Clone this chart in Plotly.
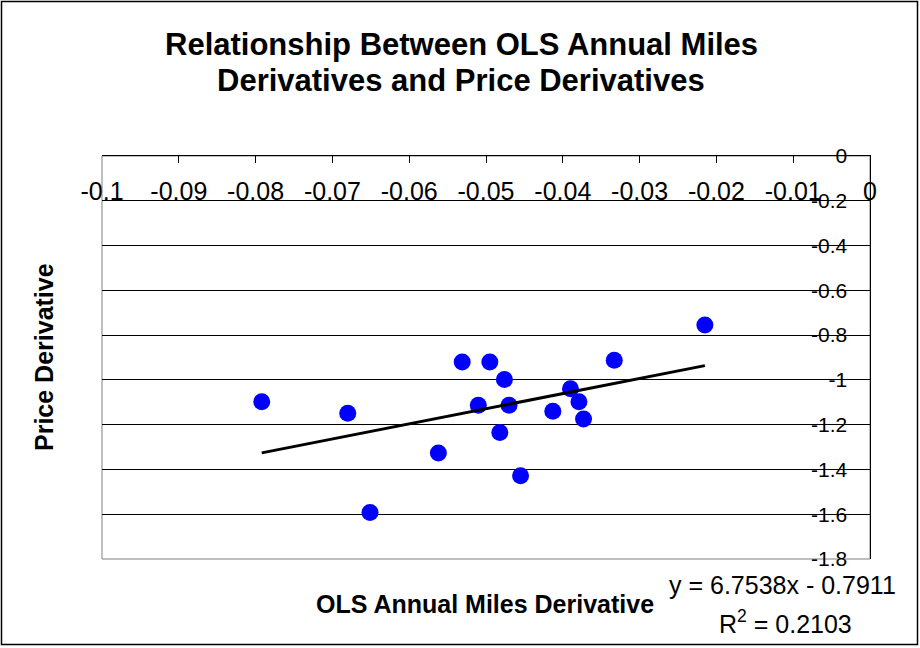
import plotly.graph_objects as go

# Data
miles_deriv = [-0.0792, -0.0680, -0.0651, -0.0562, -0.0531, -0.0495, -0.0476, -0.0510,
               -0.0470, -0.0482, -0.0455, -0.0413, -0.0390, -0.0379, -0.0373, -0.0333, -0.0215]
price_deriv = [-1.098, -1.149, -1.592, -1.327, -0.920, -0.920, -0.998, -1.113,
               -1.113, -1.235, -1.428, -1.140, -1.040, -1.098, -1.175, -0.912, -0.755]
trend_slope = 6.7538
trend_intercept = -0.7911
r_squared = 0.2103

x_tickvals = [-0.1, -0.09, -0.08, -0.07, -0.06, -0.05, -0.04, -0.03, -0.02, -0.01, 0]
x_ticktext = ["-0.1", "-0.09", "-0.08", "-0.07", "-0.06", "-0.05", "-0.04", "-0.03", "-0.02", "-0.01", "0"]
y_tickvals = [0, -0.2, -0.4, -0.6, -0.8, -1.0, -1.2, -1.4, -1.6, -1.8]
y_ticktext = ["0", "-0.2", "-0.4", "-0.6", "-0.8", "-1", "-1.2", "-1.4", "-1.6", "-1.8"]

title_lines = ["Relationship Between OLS Annual Miles", "Derivatives and Price Derivatives"]

FONT = "Liberation Sans, Arial, sans-serif"

# plot-area geometry in pixels (for placing free text)
L, R, T, B = 102, 870, 156, 559
W, H = R - L, B - T


def px_x(px):
    return (px - L) / W


def px_y(py):
    return (B - py) / H


x_min, x_max = min(miles_deriv), max(miles_deriv)
trend_x = [x_min, x_max]
trend_y = [trend_slope * v + trend_intercept for v in trend_x]

fig = go.Figure()
fig.add_trace(go.Scatter(
    x=miles_deriv, y=price_deriv, mode="markers",
    marker=dict(color="#0000FF", size=17, line=dict(width=0)),
    showlegend=False, cliponaxis=False,
))
fig.add_trace(go.Scatter(
    x=trend_x, y=trend_y, mode="lines",
    line=dict(color="black", width=3),
    showlegend=False,
))

annotations = [
    dict(text=f"<b>{title_lines[0]}</b>", xref="paper", yref="paper",
         x=px_x(461), y=px_y(45), xanchor="center", yanchor="middle",
         showarrow=False, font=dict(size=31, family=FONT, color="black")),
    dict(text=f"<b>{title_lines[1]}</b>", xref="paper", yref="paper",
         x=px_x(461), y=px_y(81), xanchor="center", yanchor="middle",
         showarrow=False, font=dict(size=31, family=FONT, color="black")),
    dict(text="<b>Price Derivative</b>", textangle=-90, xref="paper", yref="paper",
         x=px_x(44), y=px_y(357), xanchor="center", yanchor="middle",
         showarrow=False, font=dict(size=25, family=FONT, color="black")),
    dict(text="<b>OLS Annual Miles Derivative</b>", xref="paper", yref="paper",
         x=px_x(485), y=px_y(604), xanchor="center", yanchor="middle",
         showarrow=False, font=dict(size=25, family=FONT, color="black")),
    dict(text=f"y = {trend_slope}x - {abs(trend_intercept)}", xref="paper", yref="paper",
         x=px_x(782), y=px_y(585), xanchor="center", yanchor="middle",
         showarrow=False, font=dict(size=25, family=FONT, color="black")),
    dict(text=f"R<sup>2</sup> = {r_squared}", xref="paper", yref="paper",
         x=px_x(785), y=px_y(622), xanchor="center", yanchor="middle",
         showarrow=False, font=dict(size=25, family=FONT, color="black")),
]

fig.update_layout(
    width=920, height=648,
    paper_bgcolor="white", plot_bgcolor="white",
    margin=dict(l=L, r=920 - R, t=T, b=648 - B),
    font=dict(family=FONT, color="black"),
    xaxis=dict(
        range=[-0.1, 0], side="top",
        tickvals=x_tickvals, ticktext=x_ticktext,
        ticks="inside", ticklen=7, tickcolor="black",
        ticklabelposition="inside", ticklabelstandoff=21,
        ticklabeloverflow="allow",
        tickfont=dict(size=25, family=FONT, color="black"),
        showline=True, linecolor="black", linewidth=1,
        showgrid=False, zeroline=False,
    ),
    yaxis=dict(
        range=[-1.8, 0], side="right",
        tickvals=y_tickvals, ticktext=y_ticktext,
        ticks="inside", ticklen=6, tickcolor="black",
        ticklabelposition="inside", ticklabelstandoff=18,
        ticklabeloverflow="allow",
        tickfont=dict(size=21, family=FONT, color="black"),
        showline=True, linecolor="black", linewidth=1,
        showgrid=True, gridcolor="black", gridwidth=1,
        zeroline=False,
    ),
    shapes=[
        dict(type="rect", xref="x domain", yref="y domain", x0=0, x1=1, y0=0, y1=1,
             line=dict(color="#808080", width=1), layer="below"),
        dict(type="rect", xref="paper", yref="paper",
             x0=px_x(1.5), x1=px_x(917.5), y0=px_y(644.5), y1=px_y(1.5),
             line=dict(color="black", width=1.5)),
    ],
    annotations=annotations,
)

fig.write_html("out.html", config={"displayModeBar": False},
               post_script="document.body.style.margin='0';document.body.style.padding='0';")
